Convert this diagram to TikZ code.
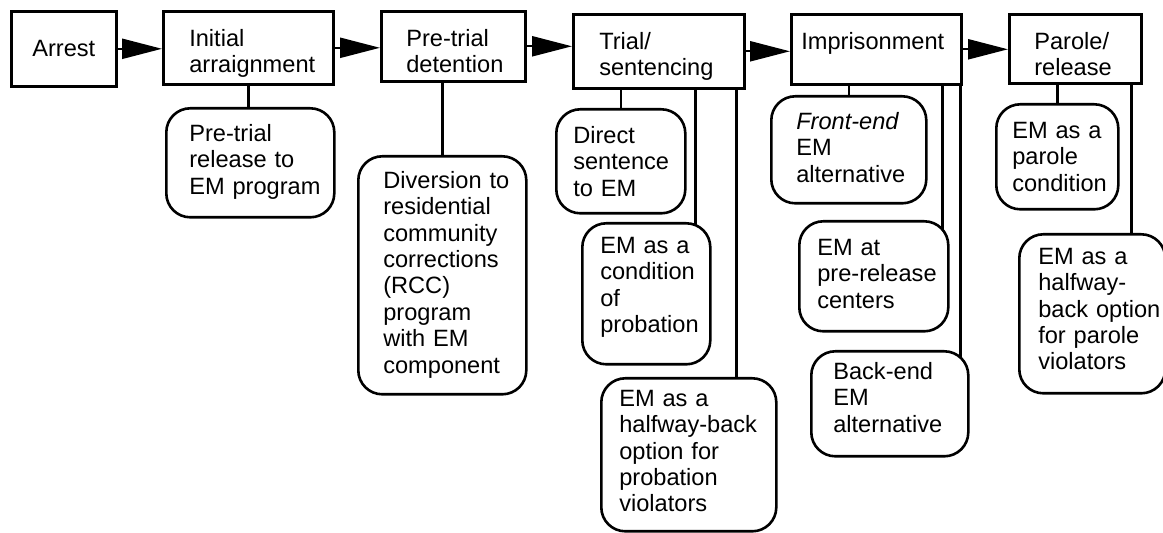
\documentclass[tikz,border=0pt]{standalone}
\usepackage{fontspec}
\setmainfont{Liberation Sans}
\usetikzlibrary{arrows.meta, backgrounds}

\begin{document}
\begin{tikzpicture}[x=0.5pt, y=-0.5pt,
    font=\fontsize{11.8pt}{13.2pt}\selectfont,
    stage/.style={draw, line width=1.3pt, anchor=north west, align=left, inner xsep=0pt, inner ysep=0pt},
    option/.style={stage, rounded corners=12pt, fill=white},
    lpad/.style={execute at begin node={\leftskip=#1\hyphenpenalty=10000}},
    flow/.style={line width=1.2pt, -{Triangle[length=20pt, width=10pt]}},
    link/.style={line width=1.2pt}
]
\useasboundingbox (0,0) rectangle (1163,533);

% ============ STAGES ============
\node[stage, align=center, minimum width=52.5pt, minimum height=37.5pt] (arrest) at (10,10) {Arrest};
\node[stage, text width=85pt, lpad=13pt, text height=17.5pt, text depth=19pt] (initial) at (162,10) {Initial\\arraignment};
\node[stage, text width=72pt, lpad=12.5pt, text height=17.5pt, text depth=17.5pt] (detention) at (380,10) {Pre-trial\\detention};
\node[stage, text width=85.5pt, lpad=13pt, text height=17.5pt, text depth=19.5pt] (trial) at (572,13) {Trial/\\sentencing};
\node[stage, text width=85pt, lpad=5pt, text height=17.5pt, text depth=17.5pt] (imprisonment) at (790,13) {Imprisonment};
\node[stage, text width=66pt, lpad=12.5pt, text height=17.5pt, text depth=17pt] (parole) at (1008,13) {Parole/\\release};

% ============ EM OPTIONS ============
\node[option, text width=84pt, lpad=11.5pt, text height=16.5pt, text depth=38pt] (release) at (165,107) {Pre-trial\\release to\\EM program};
\node[option, text width=84pt, lpad=12.5pt, text height=16pt, text depth=103pt] (diversion) at (357,155) {Diversion to\\residential\\community\\corrections\\(RCC)\\program\\with EM\\component};
\node[option, text width=64.5pt, lpad=8.5pt, text height=17pt, text depth=35pt] (direct) at (555,108) {Direct\\sentence\\to EM};
\node[option, text width=64pt, lpad=9pt, text height=15pt, text depth=55.5pt] (cond) at (581,222) {EM as a\\condition\\of\\probation};
\node[option, text width=87.5pt, lpad=9pt, text height=14pt, text depth=62.5pt] (halfprob) at (600,377) {EM as a\\halfway-back\\option for\\probation\\violators};
\node[option, text width=77.5pt, lpad=12.5pt, text height=16.5pt, text depth=37pt] (frontend) at (770,95) {\textit{Front-end}\\EM\\alternative};
\node[option, text width=74.5pt, lpad=9pt, text height=17pt, text depth=38pt] (prerel) at (798,220) {EM at\\pre-release\\centers};
\node[option, text width=78.5pt, lpad=11pt, text height=14pt, text depth=38.5pt] (backend) at (810,350) {Back-end\\EM\\alternative};
\node[option, text width=61pt, lpad=8pt, text height=17pt, text depth=35.5pt] (parcond) at (995,103) {EM as a\\parole\\condition};
\node[option, text width=73pt, lpad=9.5pt, text height=15pt, text depth=64.5pt] (halfpar) at (1018,233) {EM as a\\halfway-\\back option\\for parole\\violators};

% ============ FLOW ============
\draw[flow] (arrest.east) -- (arrest.east -| initial.west);
\draw[flow] (initial.east) -- (initial.east -| detention.west);
\draw[flow] (detention.east) -- (detention.east -| trial.west);
\draw[flow] (trial.east) -- (trial.east -| imprisonment.west);
\draw[flow] (imprisonment.east) -- (imprisonment.east -| parole.west);

% Stage-to-option links (behind the filled options)
\begin{scope}[on background layer]
  \draw[link] (initial.south) -- (initial.south |- release.center);
  \draw[link] (diversion.center |- detention.south) -- (diversion.center);
  \draw[link] (direct.center |- trial.south) -- (direct.center);
  \draw[link] ([xshift=-8pt]cond.east |- trial.south) -- ([xshift=-8pt]cond.east);
  \draw[link] ([xshift=-20.5pt]halfprob.east |- trial.south) -- ([xshift=-20.5pt]halfprob.east);
  \draw[link] (frontend.center |- imprisonment.south) -- (frontend.center);
  \draw[link] ([xshift=-3.5pt]prerel.east |- imprisonment.south) -- ([xshift=-3.5pt]prerel.east);
  \draw[link] ([xshift=-4.5pt]backend.east |- imprisonment.south) -- ([xshift=-4.5pt]backend.east);
  \draw[link] (parcond.center |- parole.south) -- (parcond.center);
  \draw[link] ([xshift=-17.5pt]halfpar.east |- parole.south) -- ([xshift=-17.5pt]halfpar.east);
\end{scope}

\end{tikzpicture}
\end{document}
